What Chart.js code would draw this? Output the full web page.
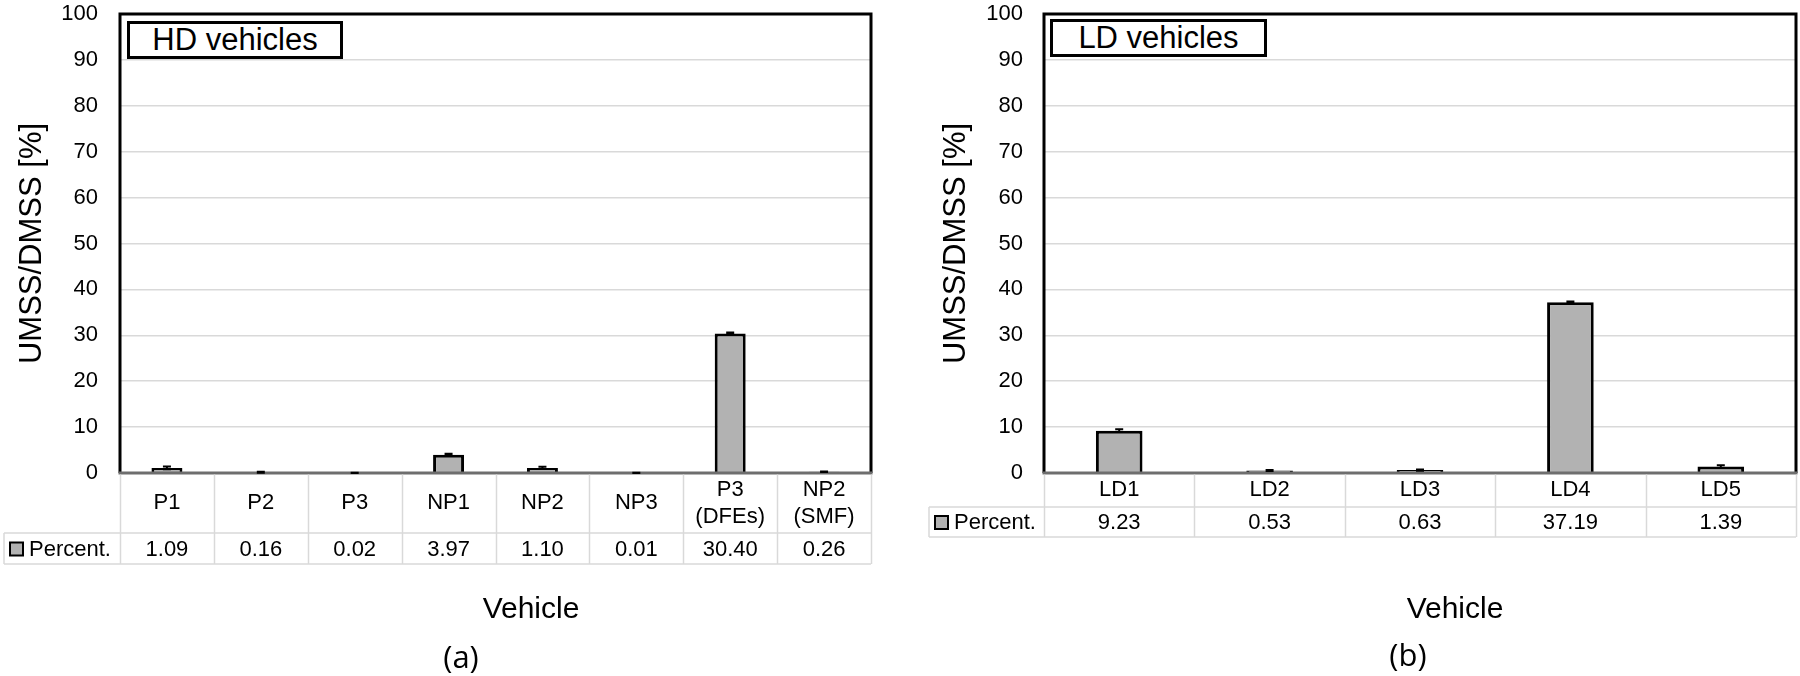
<!DOCTYPE html>
<html>
<head>
    <title>UMSS/DMSS ratio - HD and LD vehicles</title>
    <script src="https://cdn.jsdelivr.net/npm/chart.js"></script>
    <style>
        body { margin: 0; background: #fff; width: 1800px; height: 676px; position: relative; overflow: hidden;
               font-family: "Liberation Sans", Arial, sans-serif; color: #000; }
        canvas { position: absolute; top: 0; }
        .box { position: absolute; border: 3px solid #000; box-sizing: border-box; background: #fff;
               font-size: 31px; line-height: 32px; text-align: center; }
        .axis-label { position: absolute; font-size: 30px; transform: translate(-50%, -50%); white-space: nowrap; }
        .caption { position: absolute; font-family: "Open Sans", sans-serif; font-size: 31px;
                   transform: translate(-50%, -50%); }
    </style>
</head>
<body>
    <canvas id="hdChart" width="880" height="676" style="left:0"></canvas>
    <canvas id="ldChart" width="920" height="676" style="left:880px"></canvas>

    <div class="box" style="left:127px; top:21px; width:216px; height:38px;">HD vehicles</div>
    <div class="box" style="left:1050px; top:19px; width:217px; height:38px;">LD vehicles</div>

    <div class="axis-label" style="left:531px; top:608px;">Vehicle</div>
    <div class="axis-label" style="left:1455px; top:608px;">Vehicle</div>
    <div class="caption" style="left:461px; top:656px;">(a)</div>
    <div class="caption" style="left:1408px; top:654px;">(b)</div>

    <script>
        // HD vehicles
        const hdVehicles = ['P1', 'P2', 'P3', 'NP1', 'NP2', 'NP3', ['P3', '(DFEs)'], ['NP2', '(SMF)']];
        const hdPercent = [1.09, 0.16, 0.02, 3.97, 1.10, 0.01, 30.40, 0.26];
        const hdError = [0.3, 0.1, 0.05, 0.2, 0.25, 0.05, 0.2, 0.05];

        // LD vehicles
        const ldVehicles = ['LD1', 'LD2', 'LD3', 'LD4', 'LD5'];
        const ldPercent = [9.23, 0.53, 0.63, 37.19, 1.39];
        const ldError = [0.3, 0.1, 0.15, 0.2, 0.3];

        const seriesName = 'Percent.';
        const yMin = 0, yMax = 100, yStep = 10;

        Chart.defaults.font.family = '"Liberation Sans", Arial, sans-serif';
        Chart.defaults.color = '#000';

        // small black error bars on top of each bar
        const errorBars = {
            id: 'errorBars',
            afterDatasetsDraw(chart, args, opts) {
                const ctx = chart.ctx;
                const y = chart.scales.y;
                const meta = chart.getDatasetMeta(0);
                const values = chart.data.datasets[0].data;
                ctx.save();
                ctx.strokeStyle = '#000';
                ctx.lineWidth = 2;
                meta.data.forEach((bar, i) => {
                    const e = opts.errors[i];
                    const top = y.getPixelForValue(values[i] + e);
                    const bottom = y.getPixelForValue(Math.max(0, values[i] - e));
                    ctx.beginPath();
                    ctx.moveTo(bar.x, top); ctx.lineTo(bar.x, bottom);
                    ctx.moveTo(bar.x - 4, top); ctx.lineTo(bar.x + 4, top);
                    ctx.moveTo(bar.x - 4, bottom); ctx.lineTo(bar.x + 4, bottom);
                    ctx.stroke();
                });
                ctx.restore();
            }
        };

        // plot frame: black left/top/right, grey baseline
        const frame = {
            id: 'frame',
            afterDatasetsDraw(chart) {
                const {ctx, chartArea: a} = chart;
                ctx.save();
                ctx.lineWidth = 3;
                ctx.strokeStyle = '#000';
                ctx.beginPath();
                ctx.moveTo(a.left, a.bottom); ctx.lineTo(a.left, a.top);
                ctx.lineTo(a.right, a.top); ctx.lineTo(a.right, a.bottom);
                ctx.stroke();
                ctx.strokeStyle = '#6e6e6e';
                ctx.beginPath();
                ctx.moveTo(a.left - 1.5, a.bottom); ctx.lineTo(a.right + 1.5, a.bottom);
                ctx.stroke();
                ctx.restore();
            }
        };

        // Excel-like data table under the plot
        const dataTable = {
            id: 'dataTable',
            afterDraw(chart, args, opts) {
                const {ctx, chartArea: a, scales: {x}} = chart;
                const labels = chart.data.labels;
                const ds = chart.data.datasets[0];
                const n = labels.length;
                const colW = (a.right - a.left) / n;
                const top = a.bottom + 1.5, mid = a.bottom + opts.catH, bot = mid + opts.valH;

                ctx.save();
                ctx.strokeStyle = '#d9d9d9';
                ctx.lineWidth = 1.5;
                ctx.beginPath();
                ctx.moveTo(opts.legendLeft, mid); ctx.lineTo(a.right, mid);
                ctx.moveTo(opts.legendLeft, bot); ctx.lineTo(a.right, bot);
                ctx.moveTo(opts.legendLeft, mid); ctx.lineTo(opts.legendLeft, bot);
                for (let i = 0; i <= n; i++) {
                    const xx = Math.round(x.getPixelForValue(0) - colW / 2 + i * colW) + 0.5;
                    ctx.moveTo(xx, top); ctx.lineTo(xx, bot);
                }
                ctx.stroke();

                ctx.fillStyle = '#000';
                ctx.font = '22px "Liberation Sans", Arial, sans-serif';
                ctx.textAlign = 'center';
                ctx.textBaseline = 'middle';
                labels.forEach((lab, i) => {
                    const cx = x.getPixelForValue(i);
                    const lines = Array.isArray(lab) ? lab : [lab];
                    const lh = 27;
                    const cy = a.bottom + opts.catTextY - (lines.length - 1) * lh / 2;
                    lines.forEach((l, k) => ctx.fillText(l, cx, cy + k * lh));
                    ctx.fillText(ds.data[i].toFixed(2), cx, mid + opts.valH / 2 + 1);
                });

                // legend key
                const ky = mid + opts.valH / 2;
                ctx.fillStyle = ds.backgroundColor;
                ctx.fillRect(opts.legendLeft + 6, ky - 6, 13, 13);
                ctx.strokeStyle = '#000';
                ctx.lineWidth = 2;
                ctx.strokeRect(opts.legendLeft + 6, ky - 6, 13, 13);
                ctx.fillStyle = '#000';
                ctx.textAlign = 'left';
                ctx.fillText(ds.label, opts.legendLeft + 25, ky + 1);
                ctx.restore();
            }
        };

        function createChart(elementId, labels, values, errors, axisWidth, titlePad, tickPad, rightPad, barPct, table) {
            const ctx = document.getElementById(elementId).getContext('2d');
            return new Chart(ctx, {
                type: 'bar',
                data: {
                    labels: labels,
                    datasets: [{
                        label: seriesName,
                        data: values,
                        backgroundColor: '#b2b2b2',
                        borderColor: '#000',
                        borderWidth: 3,
                        barPercentage: barPct,
                        categoryPercentage: 1
                    }]
                },
                options: {
                    responsive: false,
                    animation: false,
                    layout: { padding: { top: 14, right: rightPad, bottom: 203, left: 0 } },
                    plugins: {
                        legend: { display: false },
                        tooltip: { enabled: false },
                        errorBars: { errors: errors },
                        dataTable: table
                    },
                    scales: {
                        x: { display: false },
                        y: {
                            min: yMin,
                            max: yMax,
                            ticks: { stepSize: yStep, font: { size: 22 }, padding: tickPad },
                            grid: { color: '#d9d9d9', lineWidth: 1.5, drawTicks: false },
                            border: { display: false },
                            title: {
                                display: true,
                                text: 'UMSS/DMSS [%]',
                                font: { size: 31 },
                                padding: { top: titlePad, bottom: 0 }
                            },
                            afterFit(scale) {
                                scale.width = axisWidth;
                                scale.paddingTop = 0;
                                scale.paddingBottom = 0;
                            }
                        }
                    }
                },
                plugins: [frame, errorBars, dataTable]
            });
        }

        createChart('hdChart', hdVehicles, hdPercent, hdError, 120, 14, 22, 9, 0.33,
            { catH: 60, valH: 31, catTextY: 30, legendLeft: 4 });
        createChart('ldChart', ldVehicles, ldPercent, ldError, 164, 58, 21, 4, 0.31,
            { catH: 34, valH: 30, catTextY: 17, legendLeft: 49 });
    </script>
</body>
</html>
